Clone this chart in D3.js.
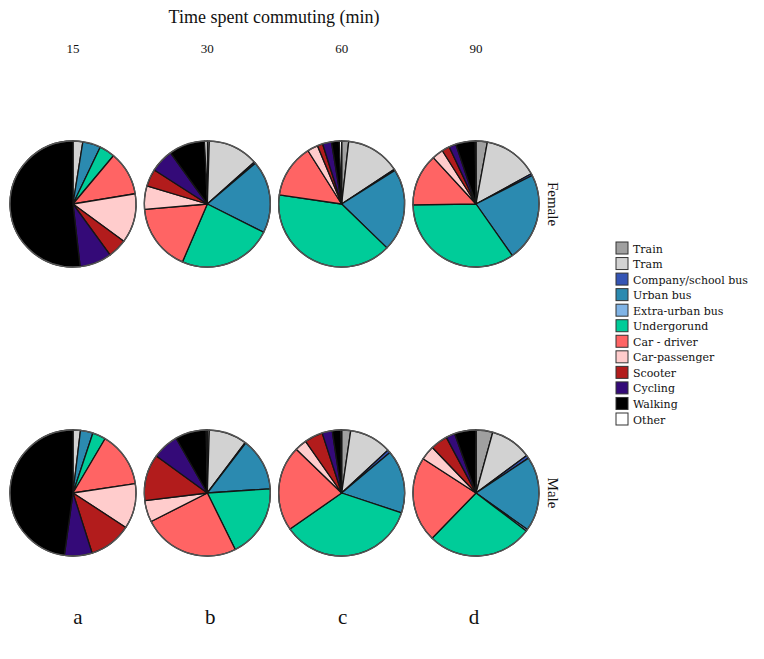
<!DOCTYPE html>
<html>
<head>
<meta charset="utf-8">
<script src="https://cdn.jsdelivr.net/npm/d3@7"></script>
<style>
  body { margin: 0; background: #fff; }
  text { font-family: "Liberation Serif", "DejaVu Serif", serif; fill: #111; }
  .legend text { font-family: "DejaVu Serif", serif; }
</style>
</head>
<body>
<div id="chart"></div>
<script>
// transport modes, in drawing order (clockwise from 12 o'clock)
var modes = ["Train", "Tram", "Company/school bus", "Urban bus", "Extra-urban bus",
             "Undergorund", "Car - driver", "Car-passenger", "Scooter", "Cycling",
             "Walking", "Other"];
var modeColors = ["#a0a0a0", "#d2d2d2", "#3454b4", "#2b8ab0", "#80b4e6",
                  "#00cc99", "#ff6464", "#ffcccc", "#b21c1c", "#340a78",
                  "#000000", "#ffffff"];

var times = ["15", "30", "60", "90"];
var letters = ["a", "b", "c", "d"];
var genders = ["Female", "Male"];

// shares (%), one array per pie
var female15 = [0, 2.5, 0, 4.6, 0, 4.0, 11.3, 12.7, 4.9, 8.2, 51.8, 0];
var female30 = [0.5, 13.0, 0.4, 18.7, 0, 24.2, 17.3, 6.0, 4.5, 6.0, 9.3, 0.7];
var female60 = [1.8, 14.0, 0.3, 21.3, 0, 40.2, 13.8, 2.7, 1.4, 2.3, 2.0, 0.6];
var female90 = [2.9, 14.2, 0.5, 22.8, 0, 34.7, 13.4, 2.9, 2.0, 1.8, 5.0, 0.2];
var male15   = [0, 1.9, 0, 3.2, 0, 3.4, 14.1, 11.6, 10.9, 7.1, 47.8, 0];
var male30   = [0.5, 9.8, 0.2, 13.6, 0, 18.9, 25.0, 5.6, 12.0, 6.8, 8.0, 0.3];
var male60   = [2.3, 10.8, 0.8, 16.2, 0, 35.2, 21.9, 3.1, 4.7, 2.6, 2.2, 0.2];
var male90   = [4.3, 10.6, 0.8, 19.2, 0.5, 27.0, 21.9, 3.7, 4.4, 2.3, 5.4, 0.1];

var rows = [[female15, female30, female60, female90],
            [male15, male30, male60, male90]];

var width = 764, height = 659;
var radius = 63;

var svg = d3.select("#chart").append("svg")
    .attr("width", width)
    .attr("height", height);

// column and row positions of the pies
var x = d3.scalePoint().domain(times).range([73, 476]);
var y = d3.scalePoint().domain(genders).range([204, 493]);

var pie = d3.pie().sort(null).value(function(d) { return d; });
var arc = d3.arc().innerRadius(0).outerRadius(radius);

rows.forEach(function(row, ri) {
  row.forEach(function(values, ci) {
    var g = svg.append("g")
        .attr("transform", "translate(" + x(times[ci]) + "," + y(genders[ri]) + ")");
    g.selectAll("path")
        .data(pie(values).filter(function(d) { return d.value > 0; }))
      .enter().append("path")
        .attr("d", arc)
        .attr("fill", function(d) { return modeColors[d.index]; })
        .attr("stroke", "#151515")
        .attr("stroke-width", 1.3)
        .attr("stroke-linejoin", "round");
    g.append("circle")
        .attr("r", radius)
        .attr("fill", "none")
        .attr("stroke", "#555")
        .attr("stroke-width", 1.3);
  });
});

// title and column labels
svg.append("text")
    .attr("x", 274).attr("y", 23)
    .attr("text-anchor", "middle")
    .style("font-size", "18px")
    .text("Time spent commuting (min)");

svg.selectAll("text.time")
    .data(times)
  .enter().append("text")
    .attr("class", "time")
    .attr("x", function(d) { return x(d); })
    .attr("y", 53)
    .attr("text-anchor", "middle")
    .style("font-size", "13px")
    .text(function(d) { return d; });

// row labels, rotated
svg.selectAll("text.gender")
    .data(genders)
  .enter().append("text")
    .attr("class", "gender")
    .attr("transform", function(d) { return "translate(548," + y(d) + ") rotate(90)"; })
    .attr("text-anchor", "middle")
    .style("font-size", "15px")
    .text(function(d) { return d; });

// panel letters
svg.selectAll("text.letter")
    .data(letters)
  .enter().append("text")
    .attr("class", "letter")
    .attr("x", function(d, i) { return x(times[i]) + [5, 3, 1, -2][i]; })
    .attr("y", 624)
    .attr("text-anchor", "middle")
    .style("font-size", "21px")
    .text(function(d) { return d; });

// legend
var legend = svg.append("g").attr("class", "legend").attr("transform", "translate(616,242)");
var ly = d3.scaleLinear().domain([0, modes.length - 1]).range([0, 171]);
var item = legend.selectAll("g")
    .data(modes)
  .enter().append("g")
    .attr("transform", function(d, i) { return "translate(0," + ly(i) + ")"; });
item.append("rect")
    .attr("width", 12).attr("height", 12)
    .attr("fill", function(d, i) { return modeColors[i]; })
    .attr("stroke", "#333")
    .attr("stroke-width", 1);
item.append("text")
    .attr("x", 17).attr("y", 10.5)
    .style("font-size", "11px")
    .text(function(d) { return d; });
</script>
</body>
</html>
